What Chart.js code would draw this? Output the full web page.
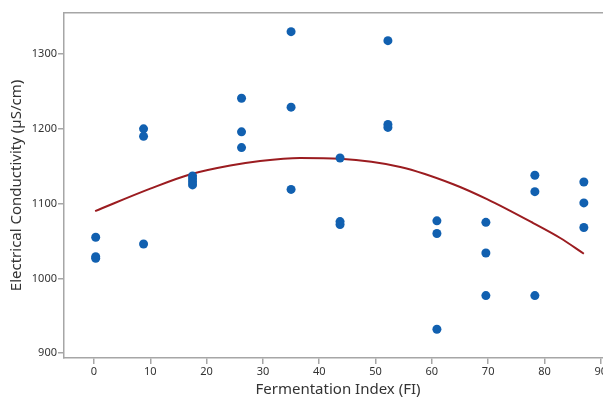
<!DOCTYPE html>
<html>
<head>
<meta charset="utf-8">
<script src="https://cdn.jsdelivr.net/npm/chart.js@4.4.1/dist/chart.umd.min.js"></script>
<style>
  html, body { margin: 0; padding: 0; background: #fff; overflow: hidden; }
  #wrap { width: 603px; height: 401px; overflow: hidden; }
  #box { width: 630px; height: 401px; }
</style>
</head>
<body>
<div id="wrap"><div id="box"><canvas id="chart"></canvas></div></div>
<script>
// measured samples (FI, conductivity)
const fiValues = [
  0.3, 0.3, 0.3,
  8.8, 8.8, 8.8,
  17.5, 17.5, 17.5, 17.5,
  26.2, 26.2, 26.2,
  35.0, 35.0, 35.0,
  43.7, 43.7, 43.7,
  52.2, 52.2, 52.2,
  60.9, 60.9, 60.9,
  69.6, 69.6, 69.6,
  78.3, 78.3, 78.3,
  87.0, 87.0, 87.0
];
const ecValues = [
  1055, 1029, 1027,
  1200, 1190, 1046,
  1137, 1133, 1129, 1125,
  1241, 1196, 1175,
  1330, 1229, 1119,
  1161, 1076, 1072,
  1318, 1206, 1202,
  1077, 1060, 932,
  1075, 1034, 977,
  1138, 1116, 977,
  1129, 1101, 1068
];

// fitted curve
const fitX = [0.2, 10, 17, 24.2, 29.5, 36.6, 43.7, 54.4, 63.8, 69.8, 78, 82.8, 87];
const fitY = [1090, 1120, 1139, 1151, 1157, 1161, 1160, 1149, 1126, 1106, 1074, 1054, 1033];

const xTicks = [0, 10, 20, 30, 40, 50, 60, 70, 80, 90];
const yTicks = [900, 1000, 1100, 1200, 1300];

const axisGray = '#a6a6a6';
const textColor = '#333333';
const fontFamily = "'Noto Sans', 'Open Sans', sans-serif";

const ctx = document.getElementById('chart').getContext('2d');
new Chart(ctx, {
  type: 'scatter',
  data: {
    datasets: [
      {
        label: 'Fit',
        type: 'line',
        data: fitX.map((x, i) => ({ x: x, y: fitY[i] })),
        borderColor: '#9b1c20',
        borderWidth: 2,
        pointRadius: 0,
        cubicInterpolationMode: 'monotone',
        fill: false,
        order: 2
      },
      {
        label: 'Samples',
        data: fiValues.map((x, i) => ({ x: x, y: ecValues[i] })),
        backgroundColor: '#1160b0',
        borderColor: '#1160b0',
        pointRadius: 4.5,
        borderWidth: 0,
        order: 1
      }
    ]
  },
  options: {
    responsive: true,
    maintainAspectRatio: false,
    animation: false,
    layout: { padding: { top: 13, left: 0, right: 18, bottom: 0 } },
    plugins: { legend: { display: false }, tooltip: { enabled: false } },
    scales: {
      x: {
        type: 'linear',
        min: -5.33,
        max: 92,
        afterBuildTicks: s => { s.ticks = xTicks.map(v => ({ value: v })); },
        afterFit: s => { s.height = 43; },
        border: { color: axisGray, width: 1.5 },
        grid: { drawOnChartArea: false, tickLength: 6, color: axisGray, lineWidth: 1.5 },
        ticks: { color: textColor, font: { family: fontFamily, size: 11 }, padding: 1, maxRotation: 0 },
        title: {
          display: true,
          text: 'Fermentation Index (FI)',
          color: textColor,
          font: { family: fontFamily, size: 15 },
          padding: { top: 0, bottom: 2 }
        }
      },
      xTop: {
        type: 'linear',
        position: 'top',
        min: -5.33,
        max: 92,
        afterFit: s => { s.height = 0; },
        border: { color: axisGray, width: 1.5 },
        grid: { display: false },
        ticks: { display: false }
      },
      y: {
        type: 'linear',
        min: 893.5,
        max: 1355,
        afterBuildTicks: s => { s.ticks = yTicks.map(v => ({ value: v })); },
        afterFit: s => { s.width = 64; },
        border: { color: axisGray, width: 1.5 },
        grid: { drawOnChartArea: false, tickLength: 6, color: axisGray, lineWidth: 1.5 },
        ticks: {
          color: textColor,
          font: { family: fontFamily, size: 11 },
          padding: 1,
          callback: v => String(v)
        },
        title: {
          display: true,
          text: 'Electrical Conductivity (µS/cm)',
          color: textColor,
          font: { family: fontFamily, size: 15 },
          padding: { top: 8, bottom: 0 }
        }
      },
      yRight: {
        type: 'linear',
        position: 'right',
        min: 893.5,
        max: 1355,
        afterFit: s => { s.width = 0; },
        border: { color: axisGray, width: 1.5 },
        grid: { display: false },
        ticks: { display: false }
      }
    }
  }
});
</script>
</body>
</html>
